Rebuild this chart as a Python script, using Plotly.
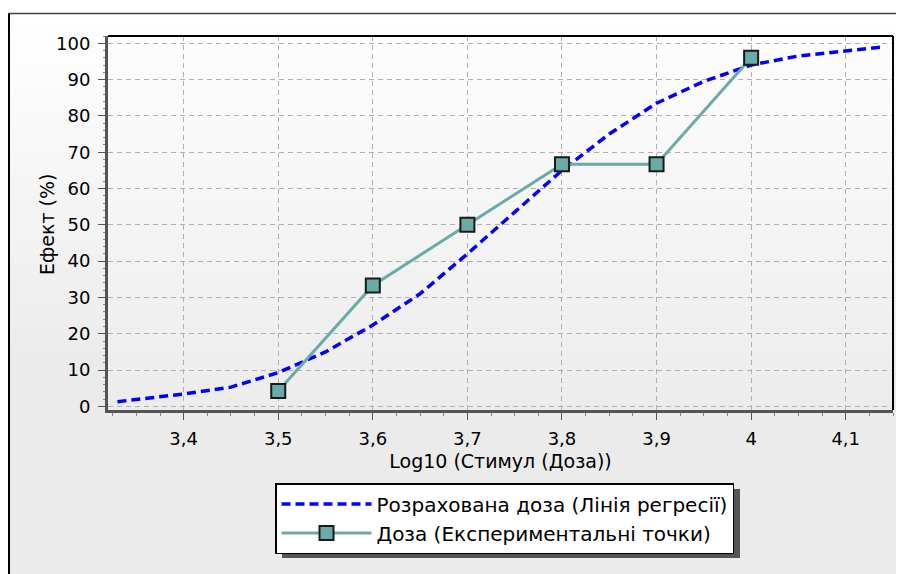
import plotly.graph_objects as go

# ---- data ----
reg_x = [3.33, 3.40, 3.45, 3.50, 3.55, 3.60, 3.65, 3.70, 3.75, 3.80, 3.85, 3.90, 3.95, 4.00, 4.05, 4.10, 4.14]
reg_y = [1.3, 3.4, 5.3, 9.3, 15.0, 22.4, 31.0, 42.0, 53.5, 65.0, 75.0, 83.5, 89.5, 94.0, 96.5, 98.0, 99.0]
exp_x = [3.5, 3.6, 3.7, 3.8, 3.9, 4.0]
exp_y = [4.2, 33.3, 50.0, 66.7, 66.7, 96.0]
x_ticks = [3.4, 3.5, 3.6, 3.7, 3.8, 3.9, 4.0, 4.1]
y_ticks = [0, 10, 20, 30, 40, 50, 60, 70, 80, 90, 100]

reg_name = "Розрахована доза (Лінія регресії)"
exp_name = "Доза (Експериментальні точки)"
x_title = "Log10 (Стимул (Доза))"
y_title = "Ефект (%)"

OFF = 8  # page body margin
W, H = 904 - OFF, 574 - OFF
L, R, T, B = 108 - OFF, 893 - OFF, 36 - OFF, 410 - OFF
pw, ph = R - L, B - T

def px(x):
    return (x - OFF - L) / pw

def py(y):
    return (B - (y - OFF)) / ph

FONT = "DejaVu Sans"

fig = go.Figure()
fig.add_trace(go.Scatter(
    x=reg_x, y=reg_y, mode="lines", name=reg_name,
    line=dict(color="#0000ff", width=3.5, dash="9px,5px"),
))
fig.add_trace(go.Scatter(
    x=exp_x, y=exp_y, mode="lines+markers", name=exp_name,
    line=dict(color="#6aaba7", width=3),
    marker=dict(symbol="square", size=14, color="#6aaba7",
                line=dict(color="#1a1a1a", width=2)),
))

shapes = []
# outer background gradient
n = 40
x0o, x1o = px(8), px(904 + 5)
top_o, bot_o = 13, 574 + 5
for i in range(n):
    ya = top_o + (bot_o - top_o) * i / n
    yb = top_o + (bot_o - top_o) * (i + 1) / n + 1
    t = i / (n - 1)
    c = int(round(255 - (255 - 235) * min(1, t * 1.6)))
    shapes.append(dict(type="rect", xref="paper", yref="paper", layer="below",
                       x0=x0o, x1=x1o, y0=py(yb), y1=py(ya),
                       fillcolor=f"rgb({c},{c},{c})", line=dict(width=0)))
# plot area gradient
for i in range(n):
    ya = 36 + 374 * i / n
    yb = 36 + 374 * (i + 1) / n + 0.5
    t = i / (n - 1)
    c = int(round(253 - (253 - 236) * t))
    shapes.append(dict(type="rect", xref="paper", yref="paper", layer="below",
                       x0=0, x1=1, y0=max(0, py(yb)), y1=py(ya),
                       fillcolor=f"rgb({c},{c},{c})", line=dict(width=0)))
# outer frame lines
shapes.append(dict(type="line", xref="paper", yref="paper", x0=px(8.5), x1=px(8.5),
                   y0=py(13), y1=py(580), line=dict(color="#000000", width=3)))
shapes.append(dict(type="line", xref="paper", yref="paper", x0=px(7), x1=px(910),
                   y0=py(13.5), y1=py(13.5), line=dict(color="#404040", width=1.5)))
# top / right plot border
shapes.append(dict(type="line", xref="paper", yref="paper", x0=0, x1=1, y0=1, y1=1,
                   line=dict(color="#000000", width=2), layer="above"))
shapes.append(dict(type="line", xref="paper", yref="paper", x0=1, x1=1, y0=0, y1=1,
                   line=dict(color="#000000", width=2), layer="above"))
# legend shadow (legend box renders about 277..735 x 484..553)
lx0, ly0 = 277, 484
lx1, ly1 = 735, 553
shapes.append(dict(type="rect", xref="paper", yref="paper", layer="below",
                   x0=px(lx0 + 5), x1=px(lx1 + 5), y0=py(ly1 + 5), y1=py(ly0 + 5),
                   fillcolor="#555555", line=dict(width=0)))

fig.update_layout(
    width=W, height=H,
    margin=dict(l=L, r=W - R, t=T, b=H - B, pad=0),
    paper_bgcolor="#ffffff",
    plot_bgcolor="rgba(0,0,0,0)",
    separators=", ",
    font=dict(family=FONT, size=18, color="#000000"),
    shapes=shapes,
    showlegend=True,
    legend=dict(
        x=px(275), y=py(483), xanchor="left", yanchor="top",
        bgcolor="#ffffff", bordercolor="#000000", borderwidth=1.5,
        font=dict(family=FONT, size=20, color="#000000"),
        itemwidth=90, tracegroupgap=0,
    ),
    annotations=[dict(
        text=y_title, textangle=-90, xref="paper", yref="paper",
        x=px(47), y=py(225), xanchor="center", yanchor="middle",
        showarrow=False, font=dict(family=FONT, size=19, color="#000000"),
    )],
)
fig.update_xaxes(
    range=[3.32, 4.15], tickmode="array", tickvals=x_ticks,
    ticks="outside", ticklen=7, tickwidth=1, tickcolor="#555555",
    ticklabelstandoff=3,
    showline=True, linecolor="#555555", linewidth=3,
    showgrid=True, gridcolor="#b0b0b0", gridwidth=1, griddash="5px,4px",
    zeroline=False,
    minor=dict(dtick=0.025, tick0=3.4, ticks="outside", ticklen=3, tickcolor="#888888", showgrid=False),
    tickfont=dict(family=FONT, size=18),
    title=dict(text=x_title, font=dict(family=FONT, size=19), standoff=8),
)
fig.update_yaxes(
    range=[-1, 102], tickmode="array", tickvals=y_ticks,
    ticks="outside", ticklen=7, tickwidth=1, tickcolor="#555555",
    ticklabelstandoff=4,
    showline=True, linecolor="#555555", linewidth=3,
    showgrid=True, gridcolor="#b0b0b0", gridwidth=1, griddash="5px,4px",
    zeroline=False,
    minor=dict(dtick=2, tick0=0, ticks="outside", ticklen=2, tickcolor="#888888", showgrid=False),
    tickfont=dict(family=FONT, size=18),
)

fig.write_html("out.html")
